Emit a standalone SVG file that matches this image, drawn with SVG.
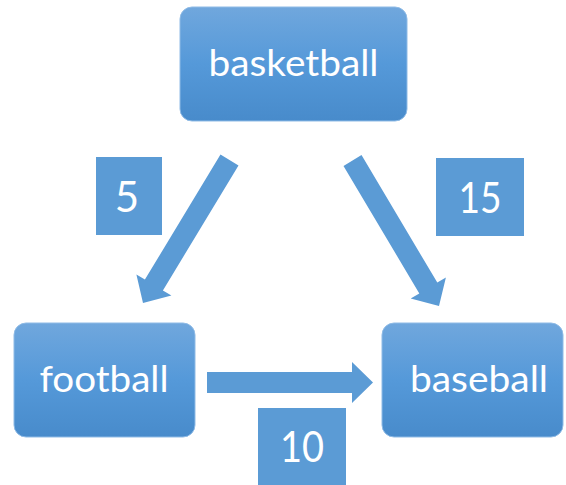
<svg xmlns="http://www.w3.org/2000/svg" width="566" height="485" viewBox="0 0 566 485">
<defs>
<linearGradient id="g" x1="0" y1="0" x2="0" y2="1">
<stop offset="0" stop-color="#70a7dd"/>
<stop offset="0.5" stop-color="#5599d9"/>
<stop offset="1" stop-color="#488bcb"/>
</linearGradient>
</defs>
<style>
.node{fill:url(#g);stroke:#8fbbe6;stroke-width:1}
.lbl{fill:#5b9bd5}
.arrow{fill:#5b9bd5}
text{fill:#ffffff;font-family:Lato,"Liberation Sans",sans-serif;text-anchor:middle}
.nt{font-size:37px}
.num{font-size:42px}
</style>
<rect width="566" height="485" fill="#ffffff"/>
<g id="connectors">
<polygon class="arrow" points="220.5,154.6 238.5,165.4 162.9,290.5 171.4,295.6 143,303 136.4,274.4 144.9,279.6"/>
<polygon class="arrow" points="343.5,165.9 361.5,155.1 437.3,282.6 445.9,277.5 439,306 410.7,298.5 419.3,293.4"/>
<polygon class="arrow" points="207,372 352,372 352,362 373,382.5 352,403 352,393 207,393"/>
</g>
<g id="basketball">
<rect class="node" x="180" y="7" width="227" height="114" rx="12"/>
<text class="nt" x="293.5" y="76" textLength="170" lengthAdjust="spacingAndGlyphs">basketball</text>
</g>
<g id="football">
<rect class="node" x="14" y="323" width="181" height="114" rx="12"/>
<text class="nt" x="104" y="392" textLength="129" lengthAdjust="spacingAndGlyphs">football</text>
</g>
<g id="baseball">
<rect class="node" x="382" y="323" width="181" height="114" rx="12"/>
<text class="nt" x="479" y="392" textLength="138" lengthAdjust="spacingAndGlyphs">baseball</text>
</g>
<g id="label5">
<rect class="lbl" x="96" y="157" width="66" height="78"/>
<text class="num" x="127" y="212">5</text>
</g>
<g id="label15">
<rect class="lbl" x="436" y="158" width="88" height="78"/>
<text class="num" x="480" y="213" textLength="43" lengthAdjust="spacingAndGlyphs">15</text>
</g>
<g id="label10">
<rect class="lbl" x="258" y="408" width="88" height="77"/>
<text class="num" x="302" y="462" textLength="44" lengthAdjust="spacingAndGlyphs">10</text>
</g>
</svg>
